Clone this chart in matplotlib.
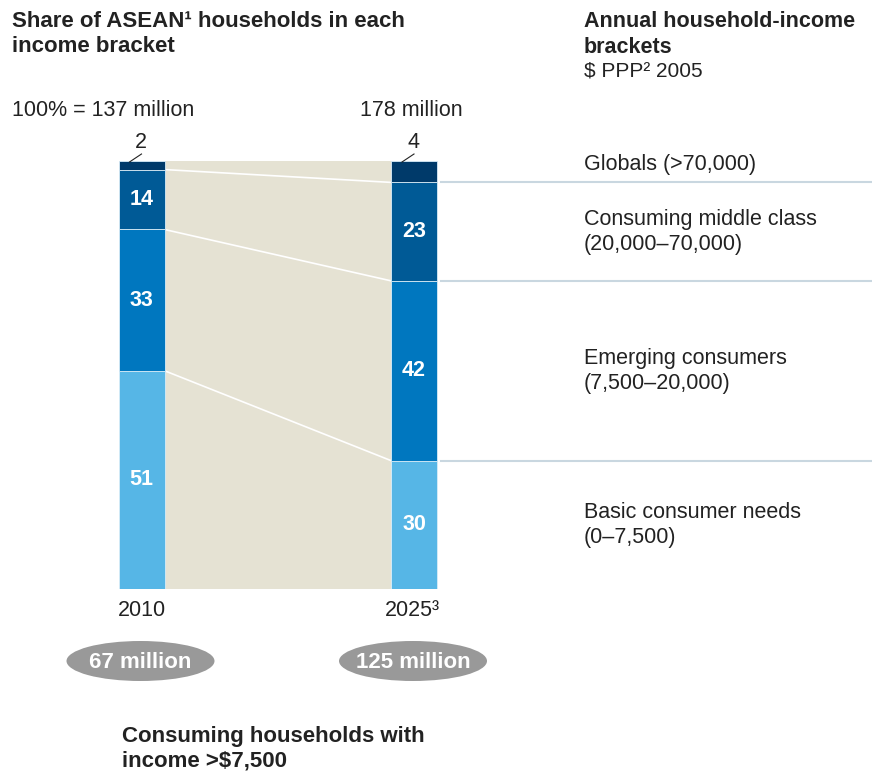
import matplotlib
matplotlib.use('Agg')
import matplotlib.pyplot as plt
from matplotlib.patches import Ellipse, Rectangle
import numpy as np

#############################################################
# Data
#############################################################
years = ['2010', '2025³']
totals = ['100% = 137 million', '178 million']
consuming = ['67 million', '125 million']
brackets = ['Basic consumer needs\n(0–7,500)',
            'Emerging consumers\n(7,500–20,000)',
            'Consuming middle class\n(20,000–70,000)',
            'Globals (>70,000)']
share_2010 = [51, 33, 14, 2]
share_2025 = [30, 42, 23, 4]
shares = [share_2010, share_2025]

colors = ['#56b6e6', '#0077bf', '#005a96', '#003a6a']
beige = '#e5e2d3'
rule = '#c9d7e0'
ink = '#222222'

plt.rcParams['font.family'] = ['Liberation Sans', 'DejaVu Sans']

W, H = 872, 773
fig = plt.figure(figsize=(W/100, H/100), dpi=100)

# bar axes: x in pixels, y in percent (0 at y=589px, 100 at y=161px)
y0, y1 = 589, 161
ax = fig.add_axes([0, (H-y0)/H, 1, (y0-y1)/H])
ax.set_xlim(0, W)
ax.set_ylim(0, 100)
ax.axis('off')

xc = [141.5, 414]
bw = 46

# beige band between the bars
ax.add_patch(Rectangle((xc[0]+bw/2, 0), xc[1]-xc[0]-bw, 100, color=beige, lw=0, zorder=0))

cums = []
for i, vals in enumerate(shares):
    vals = np.array(vals, dtype=float)
    draw = vals.copy()
    draw[-1] = 100 - draw[:-1].sum()   # top segment absorbs rounding
    bottoms = np.concatenate([[0], np.cumsum(draw)[:-1]])
    cums.append(np.cumsum(draw))
    ax.bar(np.full(len(vals), xc[i]), draw, bottom=bottoms, width=bw,
           color=colors, edgecolor='#d8ecf7', linewidth=0.6, zorder=2)
    for j, (v, b) in enumerate(zip(vals, bottoms)):
        if j < len(vals) - 1:
            ax.text(xc[i], b + v/2, f'{int(v)}', color='white', fontsize=15.5,
                    fontweight='bold', ha='center', va='center', zorder=3)

# connector lines between segment boundaries
for k in range(3):
    ax.plot([xc[0]+bw/2, xc[1]-bw/2], [cums[0][k], cums[1][k]], color='white', lw=1.2, zorder=1)
    ax.plot([xc[1]+bw/2+4, W], [cums[1][k], cums[1][k]], color=rule, lw=1.5, zorder=1)

# overlay axes in pixel coords for annotations
ov = fig.add_axes([0, 0, 1, 1], zorder=5)
ov.set_xlim(0, W)
ov.set_ylim(H, 0)
ov.axis('off')
ov.patch.set_alpha(0)

def ypix(p):
    return y0 - p/100*(y0-y1)

# small top-segment labels with leader lines
for i, vals in enumerate(shares):
    ov.text(xc[i]-1, 143, str(vals[-1]), fontsize=15.5, ha='center', va='center', color=ink)
    ov.plot([xc[i]-12, xc[i]], [162, 154], color=ink, lw=0.8)

# bracket labels on the right
mids = [b + v/2 for b, v in zip(np.concatenate([[0], cums[1][:-1]]), share_2025)]
mids[-1] = 99.2
for lab, m in zip(brackets, mids):
    ov.text(584, ypix(m), lab, fontsize=15.5, ha='left', va='center', color=ink, linespacing=1.25)

# titles
ov.text(12, 11, 'Share of ASEAN¹ households in each\nincome bracket', fontsize=16,
        fontweight='bold', ha='left', va='top', color=ink, linespacing=1.28)
ov.text(584, 11, 'Annual household-income\nbrackets', fontsize=15.5,
        fontweight='bold', ha='left', va='top', color=ink, linespacing=1.33)
ov.text(584, 71, '$ PPP² 2005', fontsize=15, ha='left', va='center', color=ink)

ov.text(12, 110, totals[0], fontsize=15.5, ha='left', va='center', color=ink)
ov.text(360, 110, totals[1], fontsize=15.5, ha='left', va='center', color=ink)

# year labels
for i, y in enumerate(years):
    ov.text(xc[i] + (-2 if i else 0), 610, y, fontsize=15.5, ha='center', va='center', color=ink)

# ellipses
for i, c in enumerate(consuming):
    ov.add_patch(Ellipse((xc[i]-1, 661), 148, 40, color='#999999', lw=0))
    ov.text(xc[i]-1, 662, c, fontsize=16, fontweight='bold', color='white', ha='center', va='center')

ov.text(122, 726, 'Consuming households with\nincome >$7,500', fontsize=16, fontweight='bold',
        ha='left', va='top', color=ink, linespacing=1.2)

fig.savefig('out.png', dpi=100)
